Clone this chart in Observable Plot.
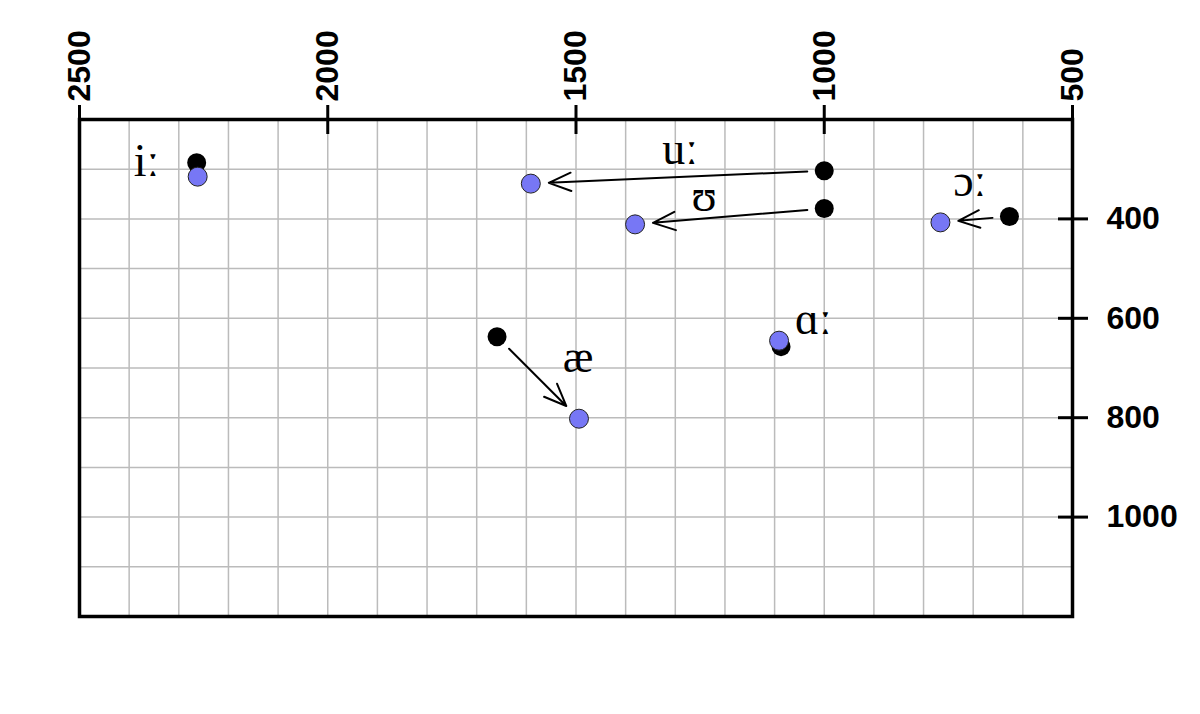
<!DOCTYPE html>
<html><head><meta charset="utf-8">
<script src="https://cdn.jsdelivr.net/npm/d3@7"></script>
<script src="https://cdn.jsdelivr.net/npm/@observablehq/plot@0.6"></script>
<style>body{margin:0;background:#fff}</style>
</head><body><div id="chart"></div>
<script>
const vowels  = ["iː", "uː", "ʊ", "ɔː", "æ", "ɑː"];
const f2Start = [2264, 1000, 1000, 627, 1659, 1087];
const f1Start = [287, 303, 379, 395, 637, 657];
const f2End   = [2262, 1591, 1381, 766, 1494, 1091];
const f1End   = [315, 329, 411, 407, 802, 645];
const labelF2 = [2365, 1290, 1242, 707, 1496, 1022];
const labelF1 = [284, 260, 355, 325, 679, 602];
const arrowVowels = ["uː", "ʊ", "ɔː", "æ"];
const xTicks = [2500, 2000, 1500, 1000, 500];
const yTicks = [400, 600, 800, 1000];

const data = vowels.map((v, i) => ({
  v, f2s: f2Start[i], f1s: f1Start[i], f2e: f2End[i], f1e: f1End[i], lx: labelF2[i], ly: labelF1[i]
}));

const chart = Plot.plot({
  width: 1200, height: 714,
  marginLeft: 79, marginRight: 128, marginTop: 119, marginBottom: 98,
  x: {domain: [2500, 500], label: null},
  y: {domain: [200, 1200], reverse: true, label: null},
  style: {fontFamily: "'Liberation Sans', Arial, sans-serif", background: "#fff", overflow: "visible"},
  marks: [
    Plot.gridX({interval: 100, stroke: "#bbb", strokeOpacity: 1, strokeWidth: 1.5}),
    Plot.gridY({interval: 100, stroke: "#bbb", strokeOpacity: 1, strokeWidth: 1.5}),
    Plot.frame({stroke: "black", strokeWidth: 3.5}),
    Plot.axisX(xTicks, {anchor: "top", tickSize: 29, dy: 14, tickPadding: 3, tickRotate: -90,
      tickFormat: d => String(d),
      fontSize: 32, fontWeight: "bold", strokeWidth: 3, stroke: "black", fill: "black", label: null}),
    Plot.axisY(yTicks, {anchor: "right", tickSize: 30, dx: -15, tickPadding: 19,
      tickFormat: d => String(d),
      fontSize: 32, fontWeight: "bold", strokeWidth: 3, stroke: "black", fill: "black", label: null}),
    Plot.arrow(data.filter(d => arrowVowels.includes(d.v)), {
      x1: "f2s", y1: "f1s", x2: "f2e", y2: "f1e",
      insetStart: 17, insetEnd: 18, headLength: 18, headAngle: 45, strokeWidth: 2, stroke: "black"
    }),
    Plot.dot(data, {x: "f2s", y: "f1s", r: 9.5, fill: "black"}),
    Plot.dot(data, {x: "f2e", y: "f1e", r: 9.5, fill: "#7777f5", stroke: "#222", strokeWidth: 1}),
    Plot.text(data, {x: "lx", y: "ly", text: "v", fontSize: 46,
      fontFamily: "'Liberation Serif', 'DejaVu Serif', serif", fill: "black"})
  ]
});
document.getElementById("chart").appendChild(chart);
</script>
</body></html>
